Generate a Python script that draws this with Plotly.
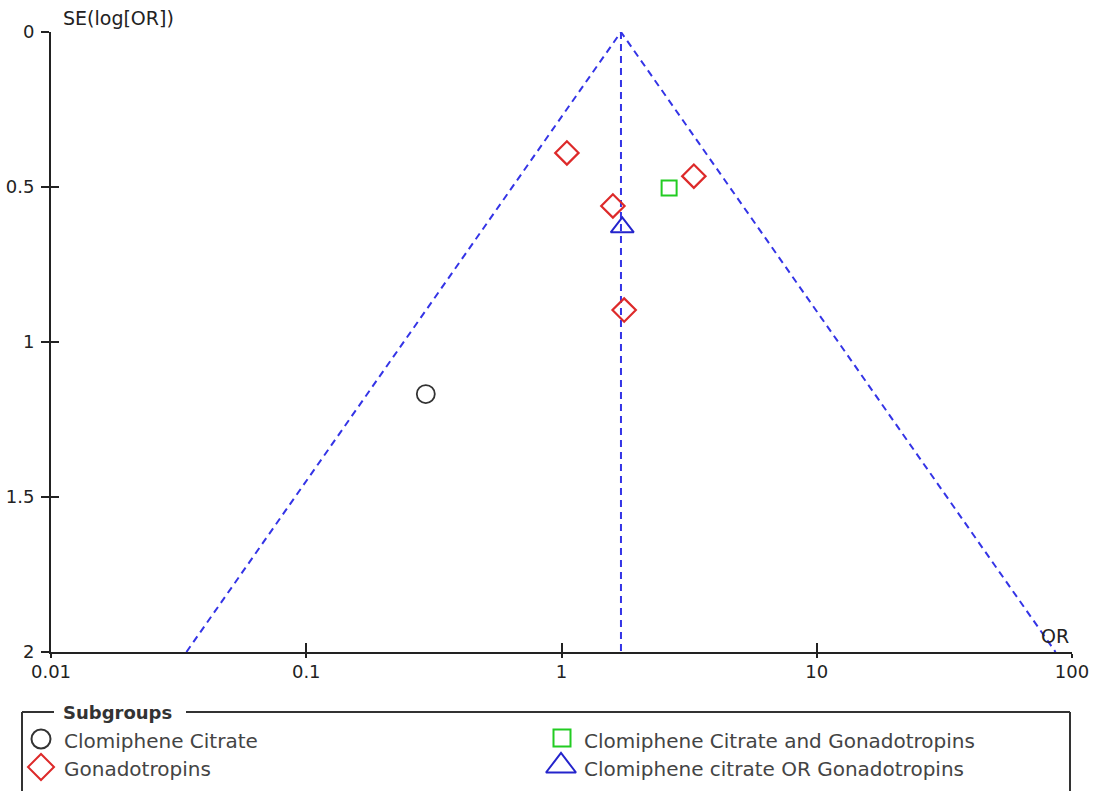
import numpy as np
import plotly.graph_objects as go

# ---------------- data ----------------
cc_or = [0.294]
cc_se = [1.168]
gon_or = [1.05, 1.59, 3.30, 1.76]
gon_se = [0.390, 0.561, 0.465, 0.897]
ccg_or = [2.64]
ccg_se = [0.503]
ccor_or = [1.73]
ccor_se = [0.630]
pooled_or = 1.71
se_range = [0.0, 2.0]

x_tickvals = [0.01, 0.1, 1, 10, 100]
x_ticktext = ["0.01", "0.1", "1", "10", "100"]
y_tickvals = [0, 0.5, 1, 1.5, 2]
y_ticktext = ["0", "0.5", "1", "1.5", "2"]

legend_names = ["Clomiphene Citrate", "Gonadotropins",
                "Clomiphene Citrate and Gonadotropins", "Clomiphene citrate OR Gonadotropins"]

# ---------------- style ----------------
W, H = 1097, 791
FONT = "DejaVu Sans"
RED = "#dd2a2a"
GREEN = "#22cc22"
BLUE = "#2424cc"
BLACK = "#333333"
LINEBLUE = "#3434e6"
AX = "#222222"

# plot area in pixels
PL, PR, PT, PB = 51, 1072, 32, 652


def px(x):
    return x / W


def py(y):
    return 1 - y / H


fig = go.Figure()

# funnel lines
se_line = np.array(se_range)
left = pooled_or * np.exp(-1.96 * se_line)
right = pooled_or * np.exp(1.96 * se_line)
line_style = dict(color=LINEBLUE, width=2, dash="7px,5px")
fig.add_trace(go.Scatter(x=list(left[::-1]) + list(right), y=list(se_line[::-1]) + list(se_line),
                         mode="lines", line=line_style, showlegend=False, hoverinfo="skip"))
fig.add_trace(go.Scatter(x=[pooled_or, pooled_or], y=se_range, mode="lines",
                         line=line_style, showlegend=False, hoverinfo="skip"))

# data points
fig.add_trace(go.Scatter(x=cc_or, y=cc_se, mode="markers", showlegend=False,
                         marker=dict(symbol="circle-open", size=18, color=BLACK, line=dict(width=1.8))))
fig.add_trace(go.Scatter(x=gon_or, y=gon_se, mode="markers", showlegend=False,
                         marker=dict(symbol="diamond-open", size=18, color=RED, line=dict(width=2.2))))
fig.add_trace(go.Scatter(x=ccg_or, y=ccg_se, mode="markers", showlegend=False,
                         marker=dict(symbol="square-open", size=15, color=GREEN, line=dict(width=2))))
fig.add_trace(go.Scatter(x=ccor_or, y=ccor_se, mode="markers", showlegend=False,
                         marker=dict(symbol="triangle-up-open", size=20, color=BLUE, line=dict(width=2))))

# overlay axes for inward tick marks
fig.add_trace(go.Scatter(x=[], y=[], xaxis="x2", yaxis="y2", showlegend=False, hoverinfo="skip"))

# legend markers on a pixel-space overlay
leg_x = [41, 41, 562, 561]
leg_y = [739, 767, 738, 766]
leg_sym = ["circle-open", "diamond-open", "square-open", "triangle-up-open"]
leg_col = [BLACK, RED, GREEN, BLUE]
leg_size = [19, 20, 17, 26]
for lx, ly, s, c, sz in zip(leg_x, leg_y, leg_sym, leg_col, leg_size):
    fig.add_trace(go.Scatter(x=[lx], y=[ly], xaxis="x3", yaxis="y3", mode="markers",
                             showlegend=False, hoverinfo="skip", cliponaxis=False,
                             marker=dict(symbol=s, size=sz, color=c, line=dict(width=2))))

tickfont = dict(family=FONT, size=18, color=AX)

fig.update_layout(
    width=W, height=H,
    margin=dict(l=0, r=0, t=0, b=0, pad=0, autoexpand=False),
    paper_bgcolor="white",
    plot_bgcolor="rgba(0,0,0,0)",
    showlegend=False,
    xaxis=dict(type="log", range=[-2, 2], domain=[px(PL), px(PR)], anchor="y", automargin=False,
               tickvals=x_tickvals, ticktext=x_ticktext, ticks="outside", ticklen=4,
               tickwidth=1.5, tickcolor=AX, showline=True, linecolor=AX, linewidth=2,
               showgrid=False, zeroline=False, tickfont=tickfont, ticklabelstandoff=-2),
    yaxis=dict(range=[2, 0], domain=[py(PB), py(PT)], anchor="x", automargin=False,
               tickvals=y_tickvals, ticktext=y_ticktext, ticks="outside", ticklen=8,
               tickwidth=1.5, tickcolor=AX, showline=True, linecolor=AX, linewidth=2,
               showgrid=False, zeroline=False, tickfont=tickfont, ticklabelstandoff=3),
    xaxis2=dict(type="log", range=[-2, 2], overlaying="x", anchor="y", side="bottom", automargin=False,
                tickvals=x_tickvals, ticks="inside", ticklen=9, tickwidth=1.5, tickcolor=AX,
                showticklabels=False, showline=False, showgrid=False, zeroline=False),
    yaxis2=dict(range=[2, 0], overlaying="y", anchor="x", side="left", automargin=False,
                tickvals=y_tickvals, ticks="inside", ticklen=8, tickwidth=1.5, tickcolor=AX,
                showticklabels=False, showline=False, showgrid=False, zeroline=False),
    xaxis3=dict(range=[0, W], domain=[0, 1], anchor="y3", visible=False, fixedrange=True,
                automargin=False),
    yaxis3=dict(range=[H, 0], domain=[0, 1], anchor="x3", visible=False, fixedrange=True,
                automargin=False),
)

annotations = [
    dict(text="SE(log[OR])", x=px(61), y=py(18), xanchor="left", yanchor="middle",
         font=dict(family=FONT, size=19, color=AX)),
    dict(text="OR", x=px(1071), y=py(636), xanchor="right", yanchor="middle",
         font=dict(family=FONT, size=19, color=AX)),
    dict(text="<b>Subgroups</b>", x=px(61), y=py(712), xanchor="left", yanchor="middle",
         font=dict(family=FONT, size=18, color="#333333")),
]
leg_tx = [62, 62, 582, 582]
leg_ty = [741, 769, 741, 769]
for name, tx, ty in zip(legend_names, leg_tx, leg_ty):
    annotations.append(dict(text=name, x=px(tx), y=py(ty), xanchor="left", yanchor="middle",
                            font=dict(family=FONT, size=20, color="#444444")))
for a in annotations:
    a.update(xref="paper", yref="paper", showarrow=False)
fig.update_layout(annotations=annotations)

# legend box with a gap for the title
box_col = "#333333"
shapes = [
    dict(type="line", x0=px(22), x1=px(54), y0=py(712), y1=py(712)),
    dict(type="line", x0=px(186), x1=px(1070), y0=py(712), y1=py(712)),
    dict(type="line", x0=px(22), x1=px(22), y0=py(712), y1=py(800)),
    dict(type="line", x0=px(1070), x1=px(1070), y0=py(712), y1=py(800)),
]
for s in shapes:
    s.update(xref="paper", yref="paper", line=dict(color=box_col, width=2))
fig.update_layout(shapes=shapes)

fig.write_html("out.html")
